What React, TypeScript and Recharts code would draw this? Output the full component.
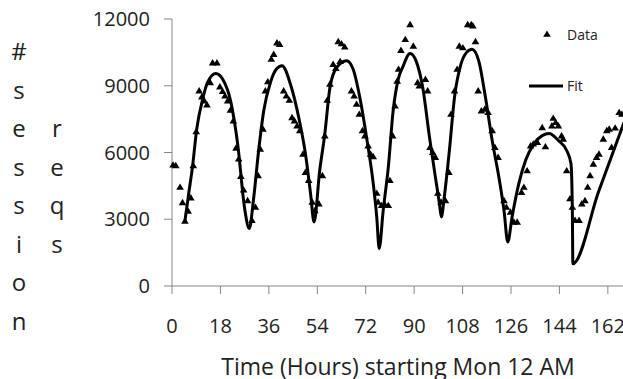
import { Label, Scatter, ScatterChart, XAxis, YAxis } from 'recharts';

// observed request counts (triangles)
const obsHours = [
  0.4, 1.4, 3.0, 3.9, 4.8, 6.0, 7.0, 7.9, 9.0, 10.1, 11.1, 12.0, 13.0, 14.2, 15.1, 16.7,
  17.8, 18.8, 19.7, 20.7, 21.7, 22.8, 23.8, 24.8, 25.6, 26.6, 28.1, 29.7, 31.0, 32.0, 32.8,
  33.8, 34.7, 35.6, 36.9, 37.8, 39.0, 40.0, 41.5, 42.5, 43.6, 44.6, 45.5, 46.5, 47.5, 48.7,
  49.6, 50.8, 52.1, 53.1, 54.6, 55.9, 56.8, 57.7, 58.7, 59.9, 60.9, 61.8, 62.5, 63.0, 64.2,
  66.7, 67.7, 68.6, 69.6, 70.8, 71.7, 72.9, 73.8, 74.8, 76.1, 76.6, 77.9, 79.1, 80.4, 81.0,
  82.0, 82.9, 83.7, 84.2, 85.1, 86.7, 88.5, 89.7, 91.3, 91.9, 94.2, 95.0, 95.9, 96.9, 97.9,
  98.8, 100.0, 101.6, 102.9, 103.7, 105.0, 106.0, 106.8, 108.1, 109.9, 111.2, 111.8, 112.8,
  113.8, 115.0, 116.3, 117.5, 119.0, 120.0, 121.2, 123.4, 124.3, 125.8, 127.1, 128.3, 129.9,
  130.8, 132.0, 133.3, 134.3, 135.8, 137.6, 138.8, 141.2, 141.7, 142.6, 143.6, 144.8, 145.4,
  146.7, 147.9, 148.8, 149.8, 151.3, 152.3, 153.5, 154.5, 155.4, 156.6, 157.8, 158.7, 160.3,
  161.6, 162.5, 163.4, 164.7, 166.2, 167.2,
];
const obsValues = [
  5450, 5420, 4450, 3760, 2920, 3370, 3970, 5420, 6950, 8780, 8510, 8330, 8150, 9150, 10040, 10040,
  8960, 8750, 8550, 8330, 7910, 7430, 6210, 5720, 4940, 4330, 3850, 2960, 3550, 4970, 6160,
  7060, 8780, 9190, 10200, 10420, 10940, 10870, 8780, 8550, 8360, 7580, 7430, 7210, 6990, 5940,
  5120, 4750, 3780, 3400, 3700, 4970, 6760, 8360, 9080, 9970, 9790, 10990, 10100, 10900, 10750,
  8780, 8550, 8180, 7730, 6990, 6760, 6310, 5940, 5820, 4180, 3780, 3630, 3670, 3630, 4750,
  6760, 8100, 9220, 9750, 10600, 11090, 11760, 10790, 9150, 9000, 9300, 8780, 6240, 6010, 5790,
  4180, 3780, 3850, 5120, 7730, 8780, 9750, 10790, 10720, 11760, 11760, 11700, 10990,
  8780, 7880, 7960, 7810, 6990, 6240, 5790, 3850, 3550, 3330, 2880, 2880, 4220,
  4450, 5190, 6310, 6390, 6460, 7130, 6270, 7210, 7550, 7360, 7210, 6760, 6610,
  5190, 3930, 3550, 2960, 2960, 3700, 3850, 4450, 4970, 5490, 5790, 5940, 6610,
  6990, 7060, 6240, 7110, 7810, 7730,
];

// fitted curve
const fitHours = [
  4.8, 6.2, 7.6, 9.2, 11.4, 13.2, 16.3, 18.8, 21.9, 24.4, 27.1, 28.7,
  30.4, 32.2, 34.1, 36.6, 38.8, 40.9, 44.0, 47.1, 49.6, 51.5, 52.8,
  54.9, 56.8, 58.7, 61.2, 64.9, 67.3, 69.8, 72.3, 74.8, 76.1, 77.0,
  78.5, 80.4, 82.2, 84.1, 85.7, 88.5, 90.7, 93.2, 95.7, 97.9, 99.4, 100.1,
  101.2, 103.1, 105.0, 107.4, 109.5, 111.5, 114.0, 116.5, 119.0, 121.5, 123.4, 124.8,
  126.4, 128.9, 131.4, 134.5, 137.6, 140.2, 143.6, 146.7, 148.3, 148.8, 149.0,
  158.5, 168,
];
const fitValues = [
  2920, 4150, 5340, 7060, 8400, 9150, 9550, 9300, 8250, 6390, 3400, 2580,
  4000, 6090, 7880, 9150, 9750, 9900, 9080, 7580, 5940, 4150, 2880,
  5190, 6840, 8920, 9820, 10120, 9750, 8480, 6690, 4600, 3100, 1690,
  3400, 5340, 7880, 9300, 9820, 10450, 10120, 8920, 6690, 4890, 3700, 3100,
  4000, 6090, 8480, 9970, 10500, 10640, 10120, 8480, 6540, 4890, 3400, 1980,
  3100, 4600, 5640, 6390, 6760, 6850, 6540, 6090, 5490, 3400, 1000,
  4220, 7350,
];

const xTicks = [0, 18, 36, 54, 72, 90, 108, 126, 144, 162];
const yTicks = [0, 3000, 6000, 9000, 12000];
const yLabelLeft = ['#', 's', 'e', 's', 's', 'i', 'o', 'n'];
const yLabelRight = ['', '', 'r', 'e', 'q', 's'];

const observed = obsHours.map((h, i) => ({ h, v: obsValues[i] }));
const fit = fitHours.map((h, i) => ({ h, v: fitValues[i] }));

const FONT = '"Open Sans", sans-serif';
const AXIS = '#868686';
const TEXT = '#222';

function Triangle(props: any) {
  const { cx, cy } = props;
  if (cx == null || cy == null) return <g />;
  return <path d={`M${cx},${cy - 3.6}L${cx + 3.8},${cy + 2.8}L${cx - 3.8},${cy + 2.8}Z`} fill="#000" />;
}

function StackedYLabel(props: any) {
  const vb = props.viewBox || { x: 0, y: 0 };
  const top = vb.y + 41;
  return (
    <g fontFamily={FONT} fontSize={24} fill={TEXT} textAnchor="middle">
      {yLabelLeft.map((c, i) => (
        <text key={'l' + i} x={vb.x + 19} y={top + i * 38.5}>{c}</text>
      ))}
      {yLabelRight.map((c, i) =>
        c ? (
          <text key={'r' + i} x={vb.x + 57} y={top + i * 38.5}>{c}</text>
        ) : null,
      )}
    </g>
  );
}

export default function App() {
  return (
    <div style={{ position: 'absolute', left: 0, top: 0, width: 623, height: 379, overflow: 'hidden', background: '#fff' }}>
      <ScatterChart width={630} height={379} margin={{ top: 19, right: 6, bottom: 0, left: 0 }}>
        <XAxis
          type="number"
          dataKey="h"
          domain={[0, 168]}
          ticks={xTicks}
          interval={0}
          stroke={AXIS}
          tickSize={8}
          tickMargin={25}
          height={93}
          tick={{ fontSize: 20, fontFamily: FONT, fill: TEXT }}
        >
          <Label
            value="Time (Hours) starting Mon 12 AM"
            position="insideBottom"
            offset={4}
            style={{ fontSize: 23, fontFamily: FONT, fill: TEXT }}
          />
        </XAxis>
        <YAxis
          type="number"
          dataKey="v"
          domain={[0, 12000]}
          ticks={yTicks}
          interval={0}
          width={172}
          stroke={AXIS}
          tickSize={8}
          tickMargin={14}
          tick={{ fontSize: 20, fontFamily: FONT, fill: TEXT }}
        >
          <Label content={<StackedYLabel />} />
        </YAxis>
        <Scatter
          name="Fit"
          data={fit}
          line={{ stroke: '#000', strokeWidth: 3 }}
          lineJointType="monotoneX"
          shape={() => <g />}
          isAnimationActive={false}
        />
        <Scatter name="Data" data={observed} shape={<Triangle />} isAnimationActive={false} />
      </ScatterChart>
      <svg
        width={90}
        height={80}
        style={{ position: 'absolute', left: 525, top: 20 }}
        fontFamily={FONT}
        fontSize={14}
        fill={TEXT}
      >
        <Triangle cx={22} cy={14} />
        <text x={42} y={20}>Data</text>
        <line x1={4} x2={38} y1={66} y2={66} stroke="#000" strokeWidth={3} />
        <text x={42} y={71}>Fit</text>
      </svg>
    </div>
  );
}
